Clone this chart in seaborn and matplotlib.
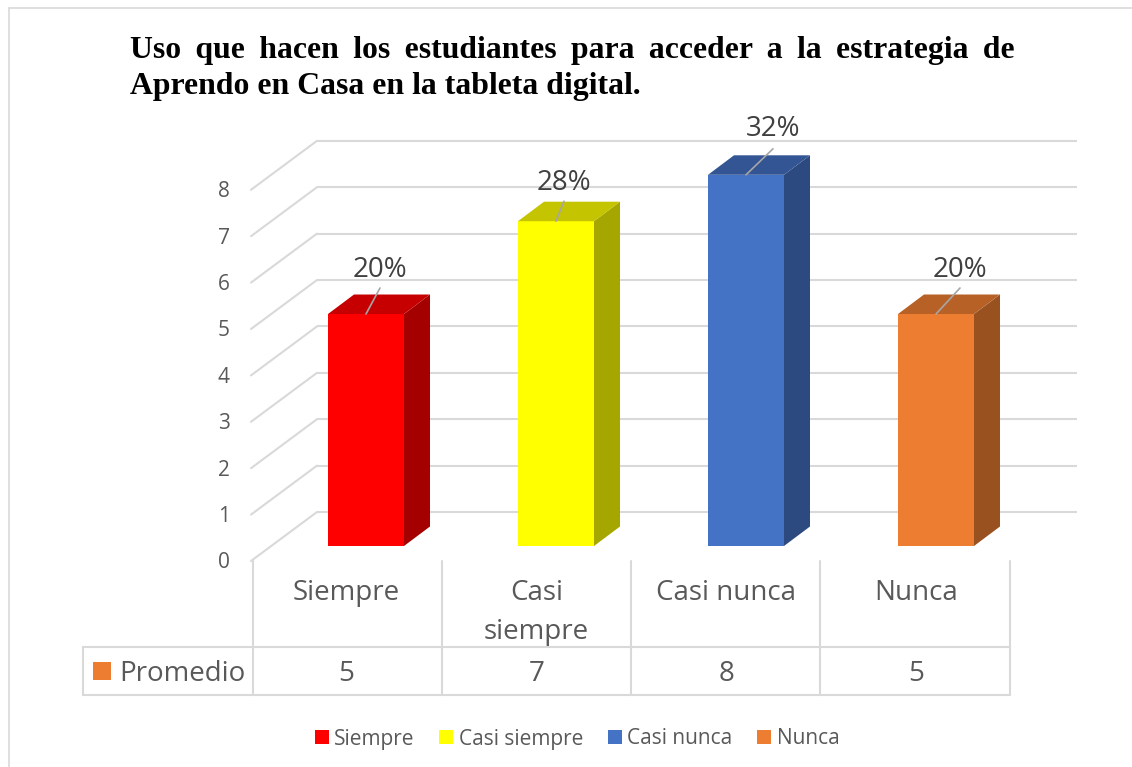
import matplotlib
matplotlib.use('Agg')
import matplotlib.pyplot as plt
import pandas as pd
import seaborn as sns
from matplotlib.patches import Polygon

# values
categories = ['Siempre', 'Casi siempre', 'Casi nunca', 'Nunca']
category_labels = ['Siempre', 'Casi\nsiempre', 'Casi nunca', 'Nunca']
promedio = [5, 7, 8, 5]
percent_labels = ['20%', '28%', '32%', '20%']
y_ticks = [0, 1, 2, 3, 4, 5, 6, 7, 8]
front_colors = ['#FF0000', '#FFFF00', '#4472C4', '#ED7D31']
side_colors = ['#A50000', '#A6A600', '#2C4A80', '#9A5120']
top_colors = ['#C60000', '#C4C400', '#335593', '#B86127']
# first line is justified in the original, a space plus a thin space gets the width
title_text = ('Uso \u2009que \u2009hacen \u2009los \u2009estudiantes \u2009para \u2009acceder \u2009a \u2009la \u2009estrategia \u2009de\n'
              'Aprendo en Casa en la tableta digital.')

WIDTH, HEIGHT = 1132, 767
GRAY = '#D9D9D9'
TEXT = '#595959'
FONT = 'Open Sans'


# the axes fills the figure, these go from picture pixels to data units
def dx(px):
    return (px - 366) / 190


def dy(py):
    return (546 - py) / 46.4


sns.set_theme(style='white')
plt.rcParams['font.family'] = [FONT, 'DejaVu Sans']

fig = plt.figure(figsize=(WIDTH / 100, HEIGHT / 100), dpi=100)
ax = fig.add_axes([0, 0, 1, 1])

df = pd.DataFrame({'categoria': categories, 'promedio': promedio})
sns.barplot(data=df, x='categoria', y='promedio', hue='categoria', palette=front_colors,
            width=76 / 190, dodge=False, saturation=1, legend=True, ax=ax, zorder=5,
            linewidth=0, edgecolor='none')
ax.set_xlim(dx(0), dx(WIDTH))
ax.set_ylim(dy(HEIGHT), dy(0))
ax.set_xlabel('')
ax.set_ylabel('')
ax.set_xticks([])
ax.set_yticks([])
for spine in ax.spines.values():
    spine.set_visible(False)

# depth of the fake 3d, in data units
bar_dx = 26 / 190
bar_dy = 19.5 / 46.4
floor_back = dy(512)
floor_front = dy(561)
wall_left = dx(317)
side_left = dx(251)

# back wall and side wall grid
for t in y_ticks:
    ax.plot([wall_left, dx(1077)], [floor_back + t, floor_back + t], color=GRAY, lw=1.5, zorder=1,
            solid_capstyle='butt')
    ax.plot([side_left, wall_left], [floor_front + t, floor_back + t], color=GRAY, lw=1.5, zorder=1)
    ax.text(dx(224), floor_front + t - 2 / 46.4, str(t), color=TEXT, fontsize=15, ha='center', va='center')

# side and top faces from the bars seaborn drew
for bar, side, top in zip(ax.patches, side_colors, top_colors):
    x0, w, h = bar.get_x(), bar.get_width(), bar.get_height()
    x1 = x0 + w
    ax.add_patch(Polygon([(x1, 0), (x1 + bar_dx, bar_dy), (x1 + bar_dx, h + bar_dy), (x1, h)],
                         facecolor=side, edgecolor='none', zorder=5))
    ax.add_patch(Polygon([(x0, h), (x1, h), (x1 + bar_dx, h + bar_dy), (x0 + bar_dx, h + bar_dy)],
                         facecolor=top, edgecolor='none', zorder=5))

# data labels with their leader lines
label_x = [380, 564, 773, 960]
line_rise = [26, 20, 26, 26]
label_rise = [44, 38, 46, 44]
for i, (val, lab) in enumerate(zip(promedio, percent_labels)):
    lx = dx(label_x[i])
    ax.plot([i, lx], [val, val + line_rise[i] / 46.4], color='#A6A6A6', lw=1.2, zorder=6)
    ax.text(lx, val + label_rise[i] / 46.4, lab, color='#404040', fontsize=20, ha='center', va='center', zorder=7)

# data table under the bars
cols = [253, 442, 631, 820, 1010]
for c in cols:
    ax.plot([dx(c), dx(c)], [dy(561), dy(695)], color=GRAY, lw=1.5, zorder=1)
ax.plot([dx(82.5), dx(82.5)], [dy(646.5), dy(695)], color=GRAY, lw=1.5, zorder=1)
for r in [646.5, 695]:
    ax.plot([dx(82.5), dx(1010)], [dy(r), dy(r)], color=GRAY, lw=1.5, zorder=1)
for i, (lab, val) in enumerate(zip(category_labels, promedio)):
    ax.text(i - 19.5 / 190, dy(579), lab, color=TEXT, fontsize=20, ha='center', va='top', linespacing=1.5)
    ax.text(i - 19.5 / 190, dy(674), str(val), color=TEXT, fontsize=20, ha='center', va='center')
ax.add_patch(Polygon([(dx(93), dy(662)), (dx(111), dy(662)), (dx(111), dy(680)), (dx(93), dy(680))],
                     facecolor=front_colors[3], edgecolor='none'))
ax.text(dx(119), dy(674), 'Promedio', color=TEXT, fontsize=20, ha='left', va='center')

# outer chart frame, no line on the right
ax.plot([dx(9), dx(9)], [dy(HEIGHT), dy(8)], color=GRAY, lw=1.2, zorder=1)
ax.plot([dx(9), dx(WIDTH)], [dy(8), dy(8)], color=GRAY, lw=1.2, zorder=1)

# legend
handles, labels = ax.get_legend_handles_labels()
ax.legend(handles, labels, ncol=4, loc='center', bbox_to_anchor=(dx(577), dy(739)),
          bbox_transform=ax.transData, frameon=False, fontsize=15, labelcolor=TEXT,
          handlelength=0.67, handleheight=0.67, handletextpad=0.25, columnspacing=1.2, borderpad=0)

ax.text(dx(130), dy(36), title_text, family='Liberation Serif', weight='bold', fontsize=22.9,
        color='black', ha='left', va='top', linespacing=1.32)

fig.savefig('out.png', dpi=100)
